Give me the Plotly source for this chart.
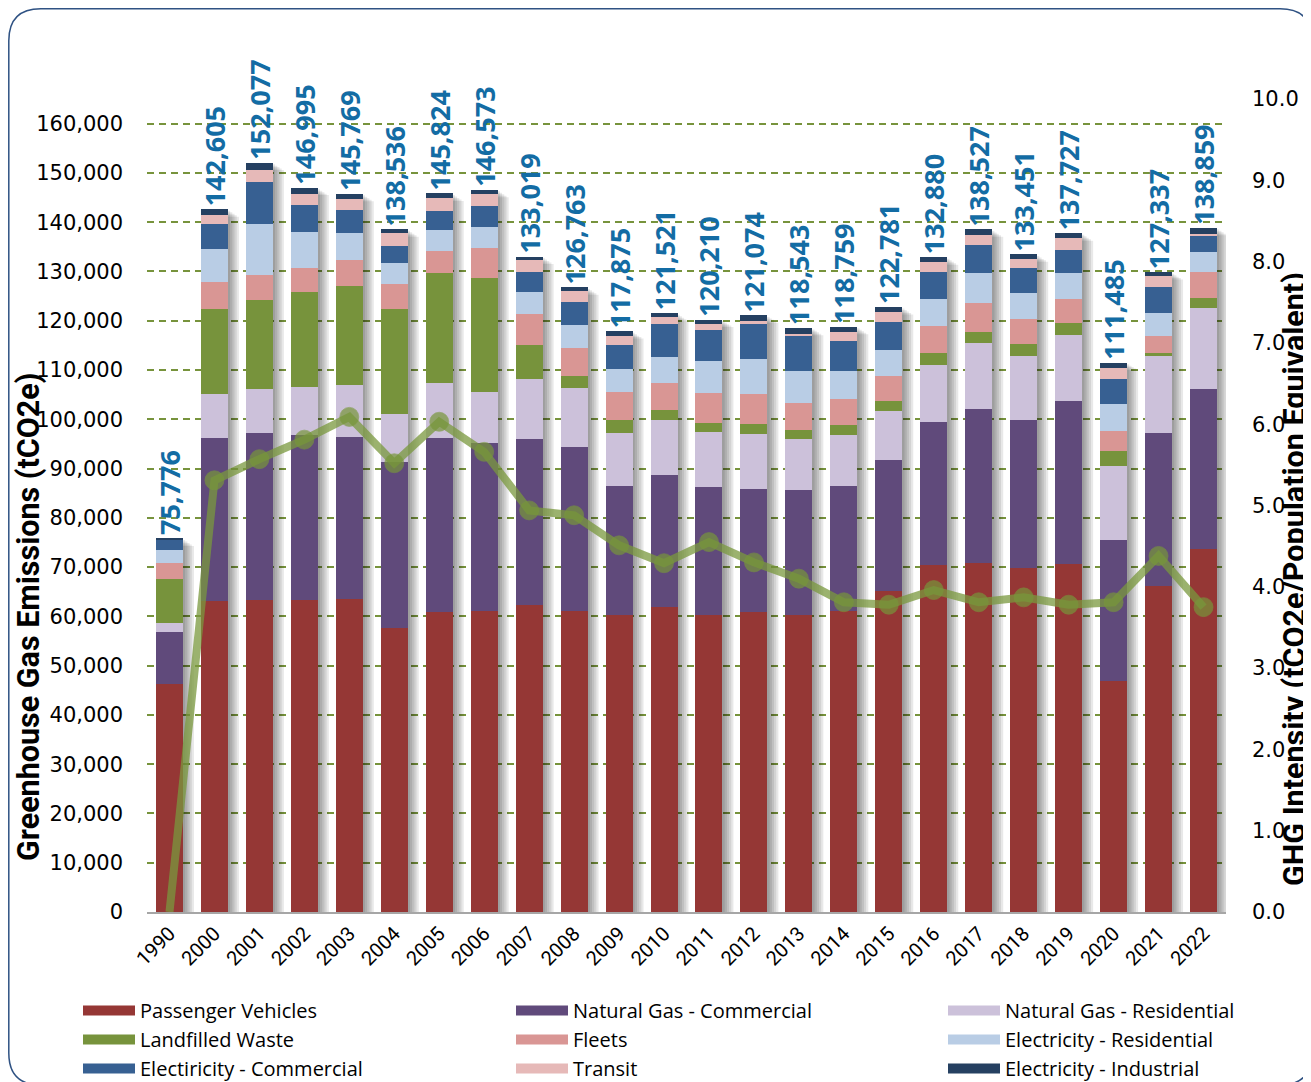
import plotly.graph_objects as go

years = ["1990", "2000", "2001", "2002", "2003", "2004", "2005", "2006", "2007", "2008",
         "2009", "2010", "2011", "2012", "2013", "2014", "2015", "2016", "2017", "2018",
         "2019", "2020", "2021", "2022"]

passenger_vehicles = [46300, 63100, 63400, 63400, 63600, 57700, 60900, 61000, 62300, 61100,
                      60200, 61900, 60200, 60900, 60200, 61000, 65200, 70400, 70800, 69800,
                      70600, 46900, 66200, 73600]
ng_commercial = [10500, 33200, 33800, 33500, 32900, 33600, 35300, 34200, 33600, 33300,
                 26200, 26800, 26000, 24900, 25400, 25500, 26500, 29000, 31200, 30000,
                 33050, 28600, 31100, 32450]
ng_residential = [1800, 8800, 8900, 9600, 10400, 9700, 11100, 10400, 12300, 12000,
                  10800, 11100, 11200, 11300, 10300, 10400, 10000, 11700, 13450, 13100,
                  13500, 15000, 15500, 16500]
landfilled_waste = [8900, 17200, 18200, 19300, 20200, 21300, 22300, 23000, 6800, 2300,
                    2600, 2150, 1850, 1900, 2000, 2000, 1950, 2450, 2300, 2300,
                    2450, 3000, 750, 2100]
fleets = [3250, 5500, 4900, 5000, 5300, 5100, 4650, 6100, 6300, 5700,
          5700, 5450, 6050, 6200, 5400, 5200, 5050, 5300, 5950, 5250,
          4900, 4050, 3450, 5200]
elec_residential = [2650, 6700, 10500, 7200, 5400, 4400, 4250, 4400, 4500, 4700,
                    4750, 5300, 6500, 7000, 6500, 5700, 5400, 5550, 5950, 5200,
                    5150, 5450, 4600, 4000]
elec_commercial = [2200, 5200, 8400, 5500, 4600, 3300, 3800, 4100, 4050, 4650,
                   4800, 6600, 6350, 7300, 7150, 6050, 5700, 5450, 5750, 5000,
                   4800, 5200, 5200, 3400]
transit = [0, 1850, 2400, 2250, 2350, 2650, 2700, 2550, 2400, 2200,
           1950, 1400, 1100, 400, 400, 1850, 2000, 2000, 2100, 1850,
           2300, 2200, 2200, 400]
elec_industrial = [176, 1055, 1577, 1245, 1019, 786, 824, 823, 769, 813,
                   875, 821, 960, 1174, 1193, 1059, 981, 1030, 1027, 951,
                   977, 1085, 850, 1209]

total_labels = [75776, 142605, 152077, 146995, 145769, 138536, 145824, 146573, 133019, 126763,
                117875, 121521, 120210, 121074, 118543, 118759, 122781, 132880, 138527, 133451,
                137727, 111485, 127337, 138859]

ghg_intensity = [0.0, 5.31, 5.57, 5.81, 6.09, 5.52, 6.03, 5.66, 4.94, 4.88,
                 4.51, 4.29, 4.55, 4.30, 4.10, 3.81, 3.78, 3.96, 3.81, 3.87,
                 3.78, 3.81, 4.38, 3.75]

series = [
    ("Passenger Vehicles", passenger_vehicles, "#953735"),
    ("Natural Gas - Commercial", ng_commercial, "#604a7b"),
    ("Natural Gas - Residential", ng_residential, "#ccc1da"),
    ("Landfilled Waste", landfilled_waste, "#77933c"),
    ("Fleets", fleets, "#d99694"),
    ("Electricity - Residential", elec_residential, "#b9cde5"),
    ("Electiricity - Commercial", elec_commercial, "#376092"),
    ("Transit", transit, "#e6b9b8"),
    ("Electricity - Industrial", elec_industrial, "#254061"),
]
# legend columns (as laid out in the reference)
legend_columns = [
    ["Passenger Vehicles", "Landfilled Waste", "Electiricity - Commercial"],
    ["Natural Gas - Commercial", "Fleets", "Transit"],
    ["Natural Gas - Residential", "Electricity - Residential", "Electricity - Industrial"],
]

OFF = 8  # page body margin
W, H = 1311 - OFF, 1082 - OFF
PL, PR, PT, PB = 147, 1226, 99, 912  # plot area in reference pixels
ML, MR, MT, MB = PL - OFF, W - (PR - OFF), PT - OFF, H - (PB - OFF)
PW, PH = PR - PL, PB - PT

def px(x):
    return (x - PL) / PW

def py(y):
    return (PB - y) / PH

BAR_W = 0.6
fig = go.Figure()
for i, (name, vals, color) in enumerate(series):
    kw = {}
    if i == len(series) - 1:
        kw = dict(text=[f"{v:,}" for v in total_labels], textposition="outside",
                  textangle=-90, constraintext="none", cliponaxis=False,
                  textfont=dict(family="Noto Sans", size=27, color="#136ca4", weight="bold"))
    fig.add_trace(go.Bar(x=years, y=vals, name=name, showlegend=False, width=BAR_W,
                         marker=dict(color=color, line=dict(width=0)), **kw))

fig.add_trace(go.Scatter(
    x=years, y=ghg_intensity, yaxis="y2", mode="lines+markers", showlegend=False,
    line=dict(color="rgba(122,152,62,0.75)", width=8),
    marker=dict(color="#77963a", size=[0 if v == 0 else 19 for v in ghg_intensity]),
))

# legend entries (wide swatches)
colors = {name: color for name, _, color in series}
for ci, col in enumerate(legend_columns):
    lg = "legend" if ci == 0 else f"legend{ci + 1}"
    for name in col:
        fig.add_trace(go.Scatter(x=[None], y=[None], mode="lines", name=name, legend=lg,
                                 line=dict(color=colors[name], width=17)))

# soft shadows to the right of each bar
stack_tops = [sum(s[1][k] for s in series) for k in range(len(years))]
for k, top in enumerate(stack_tops):
    for j in range(1, 6):
        dx = j * 2.2 / PW * len(years)
        fig.add_shape(type="rect", xref="x", yref="y", layer="between",
                      x0=k - BAR_W / 2 + dx, x1=k + BAR_W / 2 + dx, y0=0, y1=top - 300 * j,
                      fillcolor="rgba(0,0,0,0.09)", line=dict(width=0))

# rounded card border
L, R, T, B, r = OFF + 0.8, 1312, OFF + 0.8, 1085, 32
path = (f"M {px(L + r)} {py(T)} L {px(R - r)} {py(T)} Q {px(R)} {py(T)} {px(R)} {py(T + r)} "
        f"L {px(R)} {py(B - r)} Q {px(R)} {py(B)} {px(R - r)} {py(B)} "
        f"L {px(L + r)} {py(B)} Q {px(L)} {py(B)} {px(L)} {py(B - r)} "
        f"L {px(L)} {py(T + r)} Q {px(L)} {py(T)} {px(L + r)} {py(T)} Z")
fig.add_shape(type="path", path=path, xref="paper", yref="paper",
              line=dict(color="#2f5283", width=1.5), layer="below")

fig.add_annotation(text="<b>Greenhouse Gas Emissions (tCO2e)</b>", textangle=-90,
                   xref="paper", yref="paper", x=px(29), y=py(617), showarrow=False,
                   xanchor="center", yanchor="middle",
                   font=dict(family="Roboto, sans-serif", size=30.5, color="#000"))
fig.add_annotation(text="<b>GHG Intensity (tCO2e/Population Equivalent)</b>", textangle=-90,
                   xref="paper", yref="paper", x=px(1295), y=py(579), showarrow=False,
                   xanchor="center", yanchor="middle",
                   font=dict(family="Roboto, sans-serif", size=30.5, color="#000"))

legend_font = dict(family="Open Sans, sans-serif", size=20, color="#000")
leg_common = dict(orientation="v", yanchor="top", xanchor="left", xref="paper", yref="paper",
                  font=legend_font, itemwidth=52, tracegroupgap=0, bgcolor="rgba(0,0,0,0)",
                  traceorder="normal", itemclick=False, itemdoubleclick=False)

fig.update_layout(
    width=W, height=H,
    margin=dict(l=ML, r=MR, t=MT, b=MB, autoexpand=False),
    paper_bgcolor="white", plot_bgcolor="white",
    barmode="stack",
    font=dict(family="DejaVu Sans", color="#000"),
    xaxis=dict(type="category", range=[-0.5, len(years) - 0.5], showline=True,
               linecolor="#a6a6a6", linewidth=2, showgrid=False,
               tickangle=-45, tickfont=dict(family="Roboto, sans-serif", size=20),
               ticks=""),
    yaxis=dict(range=[0, 165000], dtick=10000, tickformat=",", showgrid=True,
               gridcolor="#77933c", griddash="7px,5px", gridwidth=1.6, zeroline=False,
               showline=False, tickfont=dict(family="DejaVu Sans", size=21), ticks="",
               ticklabelstandoff=23),
    yaxis2=dict(range=[0, 10], dtick=1, tickformat=".1f", overlaying="y", side="right",
                showgrid=False, zeroline=False, showline=False,
                tickfont=dict(family="DejaVu Sans", size=21), ticks="",
                ticklabelstandoff=25),
    legend=dict(x=px(78), y=py(991), **leg_common),
    legend2=dict(x=px(511), y=py(991), **leg_common),
    legend3=dict(x=px(943), y=py(991), **leg_common),
    showlegend=True,
)

fig.write_html("out.html")
